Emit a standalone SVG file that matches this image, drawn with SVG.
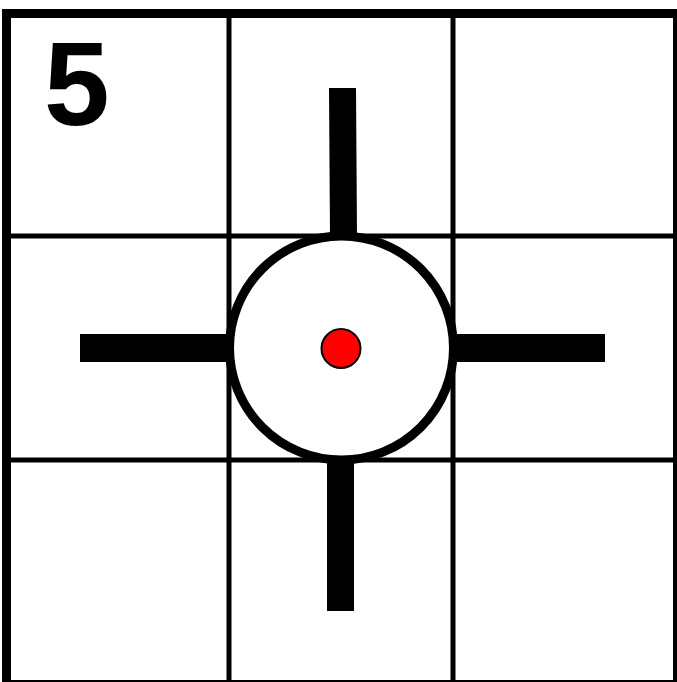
<svg xmlns="http://www.w3.org/2000/svg" width="677" height="682" viewBox="0 0 677 682">
  <style>
    .grid { stroke: #000; stroke-width: 5; fill: none; }
    .border { stroke: #000; stroke-width: 9; fill: none; }
    .bar { fill: #000; }
    .label { font-family: "Liberation Sans", Arial, sans-serif; font-weight: bold; font-size: 118px; fill: #000; }
  </style>
  <rect width="677" height="682" fill="#fff"/>
  <g id="grid">
    <line class="grid" x1="229" y1="13" x2="229" y2="682"/>
    <line class="grid" x1="453" y1="13" x2="453" y2="682"/>
    <line class="grid" x1="6" y1="236" x2="677" y2="236"/>
    <line class="grid" x1="6" y1="460" x2="677" y2="460"/>
    <rect class="border" x="6.5" y="13.5" width="671" height="671"/>
  </g>
  <g id="label">
    <text class="label" x="44" y="125">5</text>
  </g>
  <g id="connectors">
    <polygon class="bar" points="329,88 356,88 357,237 330,237"/>
    <rect class="bar" x="327" y="460" width="27" height="151"/>
    <rect class="bar" x="80" y="334" width="152" height="28"/>
    <rect class="bar" x="450" y="334" width="155" height="28"/>
  </g>
  <g id="target">
    <circle cx="341.5" cy="348" r="112" fill="#fff" stroke="#000" stroke-width="9"/>
    <circle cx="341" cy="348.5" r="19.5" fill="#ff0000" stroke="#000" stroke-width="2"/>
  </g>
</svg>
